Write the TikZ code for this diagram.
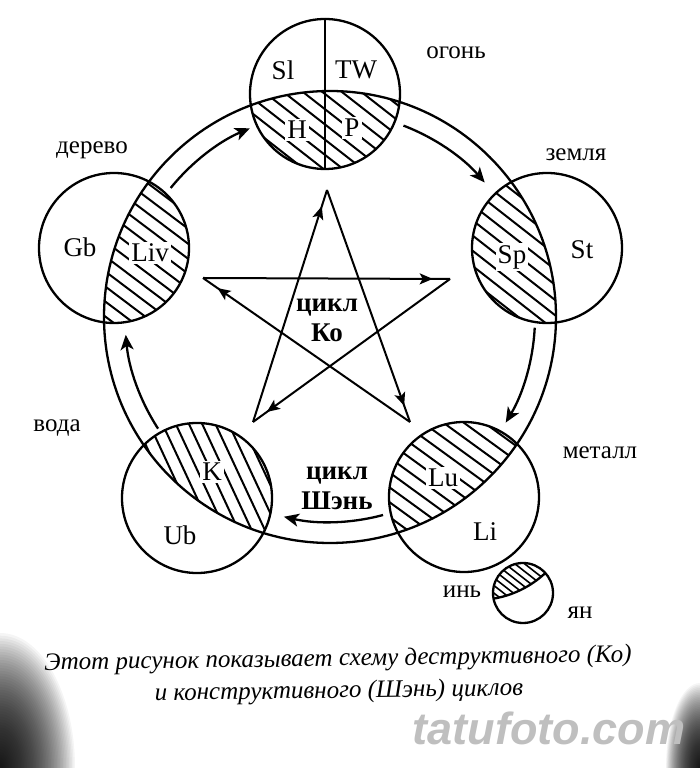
\documentclass[tikz,border=0pt]{standalone}
\usepackage{fontspec}
\setmainfont{Liberation Serif}
\newfontfamily\wmfont{Liberation Sans}
\usetikzlibrary{arrows.meta,decorations.markings,calc}
\begin{document}
\begin{tikzpicture}[x=1pt,y=1pt,
  ln/.style={line width=2.3pt},
  hatchline/.style={line width=2pt},
  elemcirc/.style={circle, draw, ln, minimum size=150pt, inner sep=0pt},
  lbl/.style={font=\fontsize{27}{30}\selectfont, inner sep=1pt},
  hlbl/.style={lbl, fill=white, inner sep=2pt},
  elem/.style={font=\fontsize{25}{28}\selectfont},
  cyc/.style={font=\bfseries\fontsize{27}{30}\selectfont, align=center},
  ringarrow/.style={ln, -{Stealth[length=15pt,width=13pt,inset=4pt]}},
  stararrow/.style={line width=2pt, postaction=decorate,
    decoration={markings, mark=at position 0.93 with {\arrow{Stealth[length=13pt,width=11pt,inset=3pt]}}}},
  captxt/.style={font=\itshape\fontsize{25}{28}\selectfont, rotate=0.8, inner sep=0pt},
]
\useasboundingbox (0,0) rectangle (700,768);
\fill[white] (0,0) rectangle (700,768);
% scan vignette in the lower corners
\begin{scope}
  \clip (0,0) rectangle (700,768);
  \foreach \t in {1.00,0.98,...,0.02} {
    \fill[black, opacity=0.04] (0,0) ellipse ({75*\t} and {135*\t});
    \fill[black, opacity=0.04] (700,0) ellipse ({34*\t} and {85*\t});
  }
\end{scope}

\coordinate (O) at (330,451);
\coordinate (fire) at (325,674);
\coordinate (earth) at (547,520);
\coordinate (metal) at (464,271);
\coordinate (water) at (197,270);
\coordinate (wood) at (114,520);

% hatching: part of each circle inside the ring
\foreach \c/\a in {fire/-38, earth/-38, metal/-36, water/-65, wood/-37} {
  \begin{scope}
    \clip (\c) circle (75);
    \clip (O) circle (226);
    \begin{scope}[shift={(\c)}, rotate=\a]
      \foreach \k in {-8,...,8} \draw[hatchline] (-95,\k*12) -- (95,\k*12);
    \end{scope}
  \end{scope}
}

% outer ring
\draw[ln] (O) circle (226);

% element circles
\node[elemcirc] (cfire) at (fire) {};
\node[elemcirc] (cearth) at (earth) {};
\node[elemcirc] (cmetal) at (metal) {};
\node[elemcirc] (cwater) at (water) {};
\node[elemcirc] (cwood) at (wood) {};
\draw[ln] (cfire.north) -- (cfire.south);

% Shen cycle arcs
\draw[ringarrow] ($(O)+(69:205)$) arc[start angle=69, end angle=41, radius=205];
\draw[ringarrow] ($(O)+(-3:205)$) arc[start angle=-3, end angle=-31, radius=205];
\draw[ringarrow] ($(O)+(-75:205)$) arc[start angle=-75, end angle=-103, radius=205];
\draw[ringarrow] ($(O)+(-147:205)$) arc[start angle=-147, end angle=-175, radius=205];
\draw[ringarrow] ($(O)+(141:205)$) arc[start angle=141, end angle=113, radius=205];

% Ko star
\coordinate (s1) at (327,578);
\coordinate (s2) at (450,489);
\coordinate (s3) at (410,346);
\coordinate (s4) at (253,346);
\coordinate (s5) at (203,490);
\draw[stararrow] (s4) -- (s1);
\draw[stararrow] (s1) -- (s3);
\draw[stararrow] (s3) -- (s5);
\draw[stararrow] (s5) -- (s2);
\draw[stararrow] (s2) -- (s4);

% labels inside circles
\node[lbl] (lSl) at (283,698) {Sl};
\node[lbl] (lTW) at (356,698) {TW};
\node[hlbl] (lH) at (297,638) {H};
\node[hlbl] (lP) at (352,640) {P};
\node[lbl] (lGb) at (80,521) {Gb};
\node[hlbl] (lLiv) at (150,515) {Liv};
\node[hlbl] (lSp) at (512,511) {Sp};
\node[lbl] (lSt) at (582,518) {St};
\node[hlbl] (lLu) at (443,290) {Lu};
\node[lbl] (lLi) at (485,236) {Li};
\node[hlbl] (lK) at (212,296) {K};
\node[lbl] (lUb) at (180,233) {Ub};

% element names
\node[elem] (nfire) at (456,715) {огонь};
\node[elem] (nearth) at (576,613) {земля};
\node[elem] (nmetal) at (600,315) {металл};
\node[elem] (nwater) at (57,340) {вода};
\node[elem] (nwood) at (92,618) {дерево};

% cycle names
\node[cyc] (ko) at (327,448) {цикл\\Ко};
\node[cyc] (shen) at (337,280) {цикл\\Шэнь};

% yin-yang
\coordinate (yy) at (523,175);
\begin{scope}
  \clip (yy) circle (30);
  \begin{scope}
    \clip (477,268) circle (100);
    \begin{scope}[shift={(yy)}, rotate=-38]
      \foreach \k in {-7,...,7} \draw[line width=1.6pt] (-40,\k*6) -- (40,\k*6);
    \end{scope}
  \end{scope}
  \draw[ln] (477,268) circle (100);
\end{scope}
\node[circle, draw, ln, minimum size=60pt, inner sep=0pt] (cyy) at (yy) {};
\node[elem] (nyin) at (462,176) {инь};
\node[elem] (nyang) at (580,155) {ян};

% caption
\node[captxt] (cap1) at (338,108) {Этот рисунок показывает схему деструктивного (Ко)};
\node[captxt] (cap2) at (339,76) {и конструктивного (Шэнь) циклов};

% watermark
\node[text=gray!50, font=\wmfont\bfseries\itshape\fontsize{45}{45}\selectfont] (wm) at (549,40) {tatufoto.com};
\end{tikzpicture}
\end{document}
